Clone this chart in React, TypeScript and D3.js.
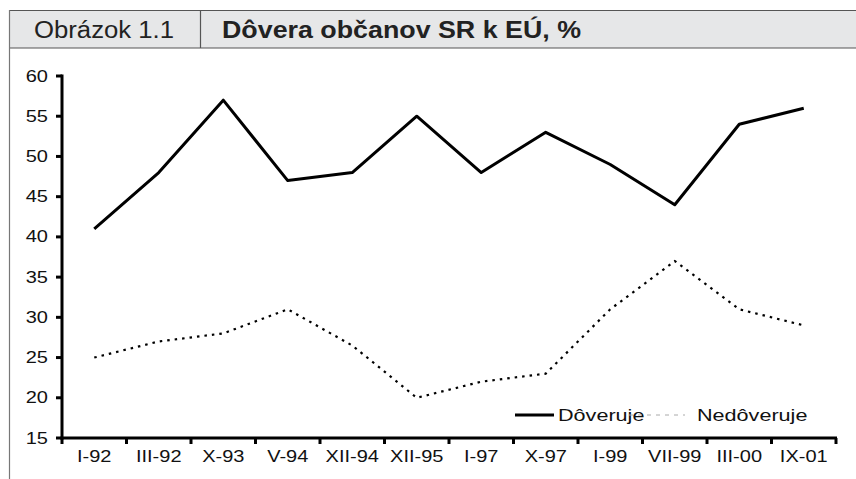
import React, { useEffect, useRef } from 'react';
import * as d3 from 'd3';

const categories = ['I-92', 'III-92', 'X-93', 'V-94', 'XII-94', 'XII-95', 'I-97', 'X-97', 'I-99', 'VII-99', 'III-00', 'IX-01'];
const doveruje = [41, 48, 57, 47, 48, 55, 48, 53, 49, 44, 54, 56];
const nedoveruje = [25, 27, 28, 31, 26.5, 20, 22, 23, 31, 37, 31, 29];
const yTicks = [15, 20, 25, 30, 35, 40, 45, 50, 55, 60];

const W = 856;
const H = 479;
const FONT = 'Liberation Sans, Arial, Helvetica, sans-serif';
const SX = 1.25; // reference text is stretched horizontally

const App = () => {
  const ref = useRef<SVGSVGElement>(null);

  useEffect(() => {
    const svg = d3.select(ref.current);
    svg.selectAll('*').remove();

    // header band
    svg.append('rect').attr('x', 9).attr('y', 10).attr('width', W - 9).attr('height', 38)
      .attr('fill', '#e6e7e8');
    svg.append('line').attr('x1', 9).attr('x2', W).attr('y1', 10.5).attr('y2', 10.5)
      .attr('stroke', '#555').attr('stroke-width', 1.2);
    svg.append('line').attr('x1', 9).attr('x2', W).attr('y1', 48).attr('y2', 48)
      .attr('stroke', '#555').attr('stroke-width', 1.2);
    svg.append('line').attr('x1', 9.5).attr('x2', 9.5).attr('y1', 10).attr('y2', H)
      .attr('stroke', '#777').attr('stroke-width', 1.2);
    svg.append('line').attr('x1', 200.5).attr('x2', 200.5).attr('y1', 10).attr('y2', 48)
      .attr('stroke', '#555').attr('stroke-width', 1.2);
    svg.append('text').attr('x', 34).attr('y', 38).attr('font-family', FONT)
      .attr('font-size', 23).attr('fill', '#222')
      .attr('textLength', 140).attr('lengthAdjust', 'spacingAndGlyphs').text('Obrázok 1.1');
    svg.append('text').attr('x', 222).attr('y', 38).attr('font-family', FONT)
      .attr('font-size', 23).attr('font-weight', 'bold').attr('fill', '#222')
      .attr('textLength', 359).attr('lengthAdjust', 'spacingAndGlyphs')
      .text('Dôvera občanov SR k EÚ, %');

    const x = d3.scaleBand().domain(categories).range([62, 836]).padding(0);
    const y = d3.scaleLinear().domain([15, 60]).range([438, 76]);
    const cx = (c: string) => (x(c) as number) + x.bandwidth() / 2;

    // y axis
    const gy = svg.append('g');
    gy.append('line').attr('x1', 62).attr('x2', 62).attr('y1', 74.5).attr('y2', 439.5)
      .attr('stroke', '#000').attr('stroke-width', 3);
    gy.selectAll('line.tk').data(yTicks).enter().append('line').attr('class', 'tk')
      .attr('x1', 56).attr('x2', 62).attr('y1', d => y(d)).attr('y2', d => y(d))
      .attr('stroke', '#000').attr('stroke-width', 3);
    gy.selectAll('text').data(yTicks).enter().append('text')
      .attr('transform', d => `translate(48,${y(d) + 5.5}) scale(${SX},1)`)
      .attr('text-anchor', 'end').attr('font-family', FONT).attr('font-size', 16)
      .attr('fill', '#111').text(d => d);

    // x axis with ticks between categories
    const gx = svg.append('g').attr('transform', 'translate(0,438)');
    gx.append('line').attr('x1', 60.5).attr('x2', 837).attr('y1', 0).attr('y2', 0)
      .attr('stroke', '#000').attr('stroke-width', 3);
    gx.selectAll('line.tk').data(categories).enter().append('line').attr('class', 'tk')
      .attr('x1', d => (x(d) as number) + x.bandwidth()).attr('x2', d => (x(d) as number) + x.bandwidth())
      .attr('y1', 0).attr('y2', 6).attr('stroke', '#000').attr('stroke-width', 3);
    gx.append('line').attr('x1', 62).attr('x2', 62).attr('y1', 0).attr('y2', 6)
      .attr('stroke', '#000').attr('stroke-width', 3);
    gx.selectAll('text').data(categories).enter().append('text')
      .attr('transform', d => `translate(${cx(d)},23.5) scale(${SX},1)`)
      .attr('text-anchor', 'middle').attr('font-family', FONT).attr('font-size', 16)
      .attr('fill', '#111').text(d => d);

    // lines
    const solid = d3.line<number>().x((_, i) => cx(categories[i])).y(d => y(d));
    svg.append('path').datum(doveruje).attr('d', solid).attr('fill', 'none')
      .attr('stroke', '#000').attr('stroke-width', 3).attr('stroke-linejoin', 'round');

    const dashed = d3.line<number>().x((_, i) => cx(categories[i])).y(d => y(d));
    svg.append('path').datum(nedoveruje).attr('d', dashed).attr('fill', 'none')
      .attr('stroke', '#000').attr('stroke-width', 2.2).attr('stroke-dasharray', '2.5,5');

    // legend
    const lg = svg.append('g').attr('transform', 'translate(0,415)');
    lg.append('line').attr('x1', 515).attr('x2', 554).attr('y1', 0).attr('y2', 0)
      .attr('stroke', '#000').attr('stroke-width', 3);
    lg.append('text').attr('transform', `translate(558,5.5) scale(1.35,1)`)
      .attr('font-family', FONT).attr('font-size', 16).attr('fill', '#111').text('Dôveruje');
    lg.append('line').attr('x1', 629).attr('x2', 685).attr('y1', 0).attr('y2', 0)
      .attr('stroke', '#aaa').attr('stroke-width', 1).attr('stroke-dasharray', '4,5');
    lg.append('text').attr('transform', `translate(697,5.5) scale(1.35,1)`)
      .attr('font-family', FONT).attr('font-size', 16).attr('fill', '#111').text('Nedôveruje');
  }, []);

  return (
    <svg ref={ref} width={W} height={H}
      style={{ position: 'absolute', left: 0, top: 0, background: '#fff' }} />
  );
};

export default App;
